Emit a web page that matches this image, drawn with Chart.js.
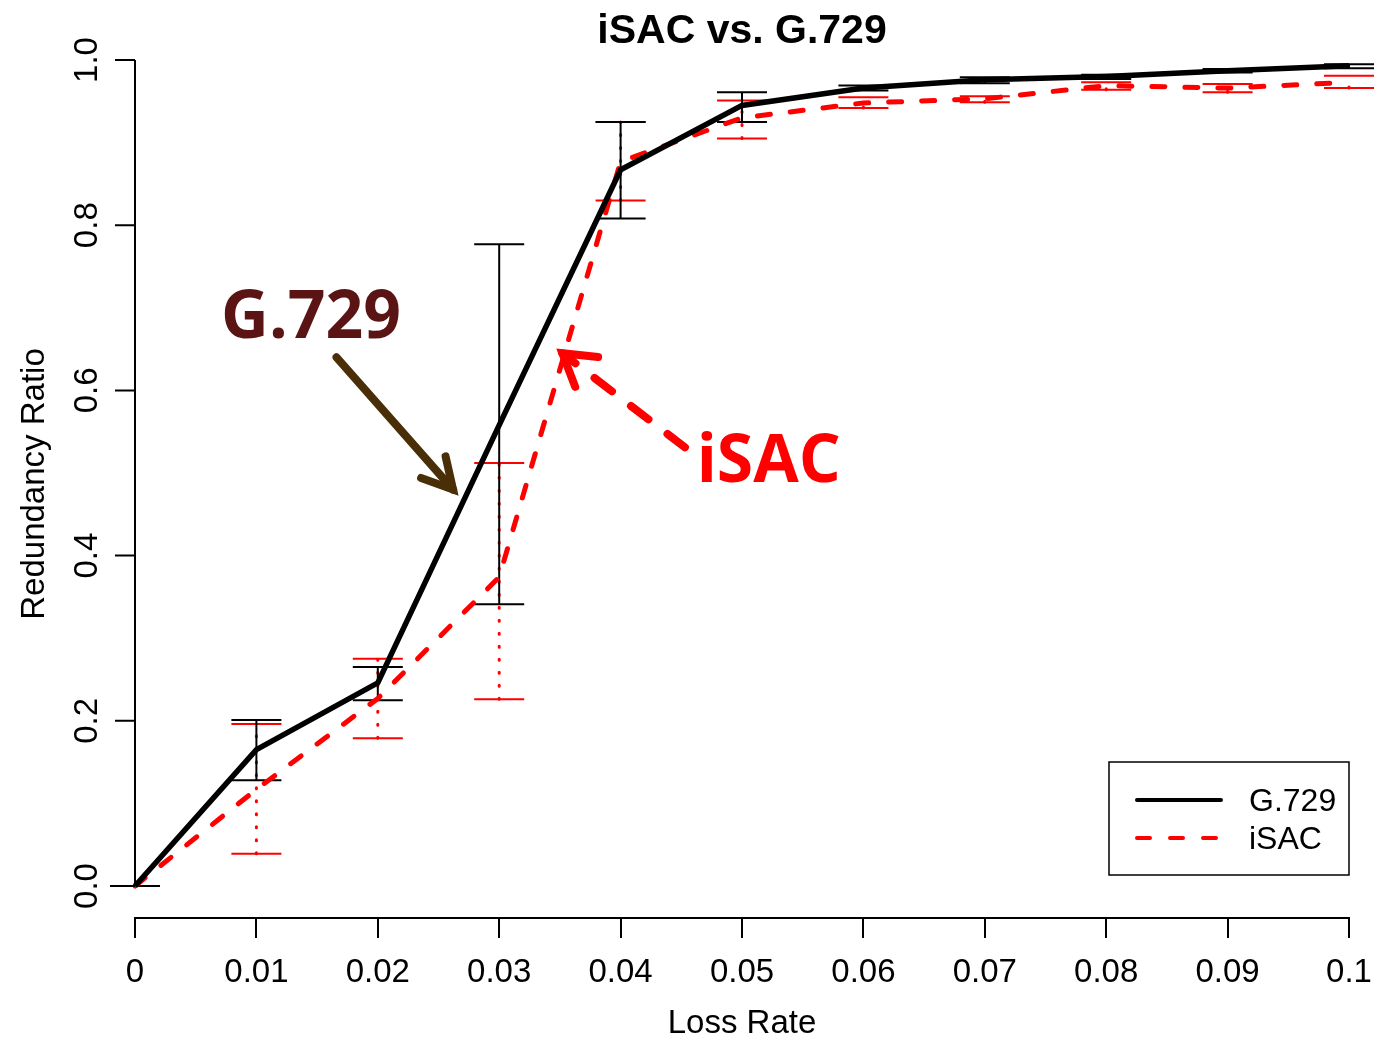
<!DOCTYPE html>
<html>
<head>
  <title>iSAC vs. G.729</title>
  <script src="https://cdn.jsdelivr.net/npm/chart.js"></script>
  <style>
    html, body {
      margin: 0;
      padding: 0;
      background: #fff;
    }
    #wrap {
      width: 1385px;
      height: 1040px;
    }
  </style>
</head>
<body>
<div id="wrap"><canvas id="redChart" width="1385" height="1040"></canvas></div>

<script>
  // data
  const lossRate = [0, 0.01, 0.02, 0.03, 0.04, 0.05, 0.06, 0.07, 0.08, 0.09, 0.1];
  const xTickLabels = ["0", "0.01", "0.02", "0.03", "0.04", "0.05", "0.06", "0.07", "0.08", "0.09", "0.1"];
  const yTicks = [0, 0.2, 0.4, 0.6, 0.8, 1.0];

  const g729 = [0, 0.165, 0.246, 0.558, 0.867, 0.945, 0.966, 0.976, 0.980, 0.987, 0.993];
  const g729Low = [0, 0.128, 0.225, 0.341, 0.808, 0.925, 0.963, 0.972, 0.977, 0.985, 0.990];
  const g729High = [0, 0.201, 0.265, 0.777, 0.925, 0.961, 0.969, 0.979, 0.982, 0.989, 0.995];

  const isac = [0, 0.117, 0.227, 0.374, 0.877, 0.930, 0.948, 0.953, 0.969, 0.966, 0.973];
  const isacLow = [0, 0.039, 0.179, 0.226, 0.830, 0.905, 0.942, 0.949, 0.964, 0.961, 0.966];
  const isacHigh = [0, 0.196, 0.275, 0.512, 0.925, 0.951, 0.955, 0.956, 0.973, 0.971, 0.981];

  // annotation anchors in data units
  const g729Note = { x: 0.0145, y: 0.663 };
  const g729Arrow = { x0: 0.0166, y0: 0.640, x1: 0.0262, y1: 0.480 };
  const isacNote = { x: 0.0522, y: 0.489 };
  const isacArrow = { x0: 0.0453, y0: 0.531, x1: 0.0352, y1: 0.645 };

  const AXIS_FONT = "33px 'Liberation Sans', Arial, sans-serif";

  function pts(ys) {
    return lossRate.map((x, i) => ({ x: x, y: ys[i] }));
  }

  // error bars, drawn under the lines
  const errorBars = {
    id: "errorBars",
    beforeDatasetsDraw(chart) {
      const ctx = chart.ctx;
      const xs = chart.scales.x, ys = chart.scales.y;
      const cap = 25;
      function bars(low, high, color, dash, width) {
        lossRate.forEach((v, i) => {
          const px = xs.getPixelForValue(v);
          const yl = ys.getPixelForValue(low[i]);
          const yh = ys.getPixelForValue(high[i]);
          ctx.save();
          ctx.strokeStyle = color;
          ctx.lineWidth = width;
          ctx.setLineDash(dash);
          ctx.lineCap = dash.length ? "round" : "butt";
          ctx.beginPath();
          ctx.moveTo(px, yl);
          ctx.lineTo(px, yh);
          ctx.stroke();
          ctx.setLineDash([]);
          ctx.lineCap = "butt";
          ctx.lineWidth = 2;
          ctx.beginPath();
          ctx.moveTo(px - cap, yl); ctx.lineTo(px + cap, yl);
          ctx.moveTo(px - cap, yh); ctx.lineTo(px + cap, yh);
          ctx.stroke();
          ctx.restore();
        });
      }
      bars(isacLow, isacHigh, "#ff0000", [1, 12], 3);
      bars(g729Low, g729High, "#000000", [], 2);
    }
  };

  function arrowHead(ctx, x0, y0, x1, y1, len, ang) {
    const a = Math.atan2(y1 - y0, x1 - x0);
    ctx.beginPath();
    ctx.moveTo(x1 - len * Math.cos(a - ang), y1 - len * Math.sin(a - ang));
    ctx.lineTo(x1, y1);
    ctx.lineTo(x1 - len * Math.cos(a + ang), y1 - len * Math.sin(a + ang));
    ctx.stroke();
  }

  // y axis, titles, legend and the two call-outs
  const decorations = {
    id: "decorations",
    afterDraw(chart) {
      const ctx = chart.ctx;
      const xs = chart.scales.x, ys = chart.scales.y;
      const area = chart.chartArea;
      const left = area.left;

      ctx.save();
      // y axis line and ticks
      ctx.strokeStyle = "#000";
      ctx.lineWidth = 2;
      ctx.beginPath();
      ctx.moveTo(left, ys.getPixelForValue(0));
      ctx.lineTo(left, ys.getPixelForValue(1));
      yTicks.forEach(t => {
        const py = ys.getPixelForValue(t);
        ctx.moveTo(left - 20, py);
        ctx.lineTo(left, py);
      });
      ctx.stroke();

      // y tick labels, rotated like R
      ctx.fillStyle = "#000";
      ctx.font = AXIS_FONT;
      ctx.textAlign = "center";
      ctx.textBaseline = "alphabetic";
      yTicks.forEach(t => {
        ctx.save();
        ctx.translate(left - 38, ys.getPixelForValue(t));
        ctx.rotate(-Math.PI / 2);
        ctx.fillText(t.toFixed(1), 0, 0);
        ctx.restore();
      });

      // y title
      ctx.save();
      ctx.translate(44, (ys.getPixelForValue(0) + ys.getPixelForValue(1)) / 2 + 11);
      ctx.rotate(-Math.PI / 2);
      ctx.fillText("Redundancy Ratio", 0, 0);
      ctx.restore();

      // main title
      ctx.font = "bold 41px 'Liberation Sans', Arial, sans-serif";
      ctx.fillText("iSAC vs. G.729", (area.left + area.right) / 2, 43);

      // legend box
      const bx = area.right - 240, by = ys.getPixelForValue(0) - 124;
      ctx.lineWidth = 1.5;
      ctx.strokeRect(bx, by, 240, 113);
      ctx.font = "32px 'Liberation Sans', Arial, sans-serif";
      ctx.textAlign = "left";
      ctx.textBaseline = "middle";
      chart.data.datasets.forEach((ds, i) => {
        const ly = by + 38 + i * 38;
        ctx.strokeStyle = ds.borderColor;
        ctx.lineWidth = 4;
        ctx.lineCap = "round";
        ctx.setLineDash(ds.borderDash || []);
        ctx.beginPath();
        ctx.moveTo(bx + 28, ly);
        ctx.lineTo(bx + 112, ly);
        ctx.stroke();
        ctx.setLineDash([]);
        ctx.fillStyle = "#000";
        ctx.fillText(ds.label, bx + 140, ly + 2);
      });

      // G.729 call-out
      ctx.textAlign = "center";
      ctx.textBaseline = "alphabetic";
      ctx.font = "bold 66px 'Open Sans', sans-serif";
      ctx.fillStyle = "#5a1414";
      ctx.fillText("G.729", xs.getPixelForValue(g729Note.x), ys.getPixelForValue(g729Note.y));
      let x0 = xs.getPixelForValue(g729Arrow.x0), y0 = ys.getPixelForValue(g729Arrow.y0);
      let x1 = xs.getPixelForValue(g729Arrow.x1), y1 = ys.getPixelForValue(g729Arrow.y1);
      ctx.strokeStyle = "#4a2e08";
      ctx.lineWidth = 8;
      ctx.lineCap = "round";
      ctx.beginPath();
      ctx.moveTo(x0, y0);
      ctx.lineTo(x1, y1);
      ctx.stroke();
      arrowHead(ctx, x0, y0, x1, y1, 34, 0.5);

      // iSAC call-out
      ctx.fillStyle = "#ff0000";
      ctx.fillText("iSAC", xs.getPixelForValue(isacNote.x), ys.getPixelForValue(isacNote.y));
      x0 = xs.getPixelForValue(isacArrow.x0); y0 = ys.getPixelForValue(isacArrow.y0);
      x1 = xs.getPixelForValue(isacArrow.x1); y1 = ys.getPixelForValue(isacArrow.y1);
      ctx.strokeStyle = "#ff0000";
      ctx.setLineDash([22, 24]);
      ctx.beginPath();
      ctx.moveTo(x0, y0);
      ctx.lineTo(x1, y1);
      ctx.stroke();
      ctx.setLineDash([]);
      arrowHead(ctx, x0, y0, x1, y1, 36, 0.55);
      ctx.restore();
    }
  };

  const ctx = document.getElementById("redChart").getContext("2d");
  new Chart(ctx, {
    type: "line",
    data: {
      datasets: [
        {
          label: "G.729",
          data: pts(g729),
          borderColor: "#000000",
          borderWidth: 5.5,
          pointRadius: 0,
          fill: false,
          tension: 0,
          clip: false
        },
        {
          label: "iSAC",
          data: pts(isac),
          borderColor: "#ff0000",
          borderWidth: 5,
          borderDash: [13, 20],
          borderCapStyle: "round",
          pointRadius: 0,
          fill: false,
          tension: 0,
          clip: false
        }
      ]
    },
    options: {
      responsive: false,
      animation: false,
      layout: { padding: { left: 135, top: 60, right: 36, bottom: 0 } },
      plugins: {
        legend: { display: false },
        tooltip: { enabled: false }
      },
      scales: {
        x: {
          type: "linear",
          min: 0,
          max: 0.1,
          afterBuildTicks: s => { s.ticks = lossRate.map(v => ({ value: v })); },
          afterFit: s => { s.height = 122; s.paddingLeft = 0; s.paddingRight = 0; },
          border: { display: true, color: "#000", width: 2 },
          grid: { drawOnChartArea: false, drawTicks: true, tickLength: 20, color: "#000", lineWidth: 2 },
          ticks: {
            color: "#000",
            font: { family: "'Liberation Sans', Arial, sans-serif", size: 33 },
            padding: 15,
            maxRotation: 0,
            autoSkip: false,
            callback: (v, i) => xTickLabels[i]
          },
          title: {
            display: true,
            text: "Loss Rate",
            color: "#000",
            font: { family: "'Liberation Sans', Arial, sans-serif", size: 33 },
            padding: { top: 0, bottom: -4 }
          }
        },
        y: {
          display: false,
          min: -32 / 826,
          max: 1.0
        }
      }
    },
    plugins: [errorBars, decorations]
  });
</script>
</body>
</html>
